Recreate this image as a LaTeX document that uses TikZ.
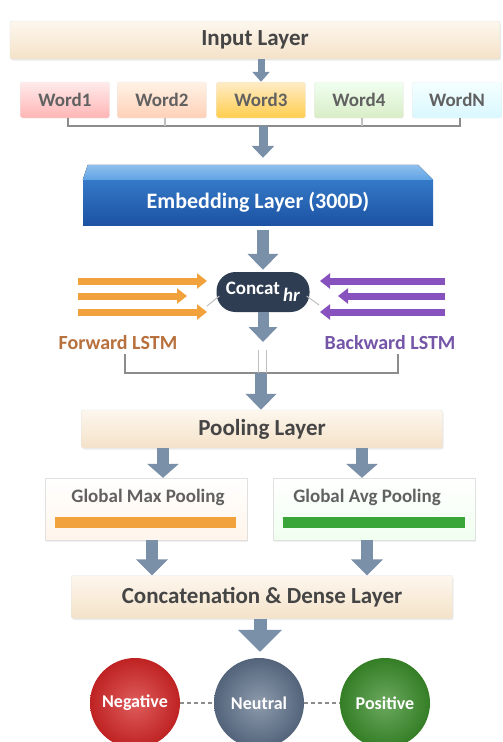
\documentclass[tikz,border=0pt]{standalone}
\usepackage{fontspec}
\setmainfont{Carlito}
\usetikzlibrary{arrows.meta,shapes.geometric,calc,shadows}
\definecolor{arrowc}{HTML}{7A8FA8}
\definecolor{txt}{HTML}{454545}
\definecolor{creamtop}{HTML}{FDF7EE}
\definecolor{creambot}{HTML}{F4E2C8}
\definecolor{orng}{HTML}{F2A23C}
\definecolor{purp}{HTML}{8752BE}
\definecolor{fwtxt}{HTML}{B8703C}
\definecolor{bwtxt}{HTML}{7455A8}
\definecolor{embtop}{HTML}{5FA3E4}
\definecolor{embA}{HTML}{3479C8}
\definecolor{embB}{HTML}{1C52A2}
\definecolor{concatc}{HTML}{2E3D52}
\definecolor{negc}{HTML}{D42626}
\definecolor{neuc}{HTML}{5C6F88}
\definecolor{posc}{HTML}{3A8C2A}
\begin{document}
\begin{tikzpicture}[x=1pt,y=-1pt,
  layer/.style={draw=black!10, top color=creamtop, bottom color=creambot, rounded corners=2pt,
    font=\bfseries\fontsize{23}{26}\selectfont, text=txt, inner sep=0pt,
    drop shadow={opacity=0.15,shadow xshift=1pt,shadow yshift=-1.5pt}},
  word/.style={draw=black!8, rounded corners=2pt, minimum width=89pt, minimum height=36pt,
    font=\bfseries\fontsize{19}{21}\selectfont, text=txt!85, inner sep=0pt},
  arr/.style={draw=arrowc, line width=12pt, -{Triangle[width=30pt,length=16pt]}},
  sarr/.style={draw=arrowc, line width=7pt, -{Triangle[width=17pt,length=10pt]}},
  farr/.style={draw=orng, line width=7pt, -{Triangle[width=15pt,length=10pt]}},
  barr/.style={draw=purp, line width=7pt, -{Triangle[width=15pt,length=10pt]}},
  thin/.style={draw=black!45, line width=1.2pt},
  poolbox/.style={draw=black!12, minimum width=202pt, minimum height=62pt, inner sep=0pt,
    drop shadow={opacity=0.12,shadow xshift=1pt,shadow yshift=-1.5pt}},
  ball/.style={circle, minimum size=90pt, inner sep=0pt, text=white,
    font=\bfseries\fontsize{18}{20}\selectfont}
]
\useasboundingbox (0,0) rectangle (503,742);
\fill[white] (0,0) rectangle (503,742);

% Input layer
\node[layer, minimum width=490pt, minimum height=38pt] (inp) at (255,40) {Input Layer};

% Words
\node[word, top color=red!8, bottom color=red!22!pink!70] (w1) at (65,100) {Word1};
\node[word, top color=orange!10, bottom color=red!30!orange!28] (w2) at (162,100) {Word2};
\node[word, top color=yellow!30!orange!22, bottom color=yellow!45!orange!70] (w3) at (261,100) {Word3};
\node[word, top color=green!6, bottom color=green!35!olive!22] (w4) at (359,100) {Word4};
\node[word, top color=cyan!4, bottom color=blue!20!cyan!15] (w5) at (457,100) {WordN};
\draw[sarr] (inp.south -| w3) -- (w3.north);

% bracket under words
\coordinate (b1) at (68,126);
\coordinate (b2) at (165,126);
\coordinate (b4) at (362,126);
\coordinate (b5) at (460,126);
\coordinate (bm) at (263,126);
\draw[thin] (w1.south -| b1) -- (b1) -- (b5) -- (w5.south -| b5);
\draw[thin, draw=black!25] (w2.south -| b2) -- (b2);
\draw[thin, draw=black!25] (w4.south -| b4) -- (b4);

% Embedding layer
\node[minimum width=350pt, minimum height=45pt, inner sep=0pt, top color=embA, bottom color=embB,
  text=white, font=\bfseries\fontsize{22}{24}\selectfont] (emb) at (258,202.5) {Embedding Layer (300D)};
\fill[top color=embtop!70!white, bottom color=embtop] (emb.north west) -- ++(5,-15) -- ($(emb.north east)+(-15,-15)$) -- (emb.north east) -- cycle;
\draw[sarr, line width=9pt, -{Triangle[width=22pt,length=12pt]}] (bm) -- ($(emb.north -| bm)+(0,-22)$);

% Concat
\node[fill=concatc, rounded corners=19pt, minimum width=93pt, minimum height=40pt, inner sep=0pt,
  text=white, font=\bfseries\fontsize{19}{21}\selectfont] (cc) at (263,292) {Concat\,$_{\textit{hr}}$};
\draw[arr] (emb.south -| cc) ++(0,5) coordinate (ea) (ea) -- ($(cc.north)+(0,-2)$);

% Forward arrows
\coordinate (f1s) at (78,281); \coordinate (f1e) at (207,281);
\coordinate (f2s) at (78,296); \coordinate (f2e) at (187,296);
\coordinate (f3s) at (78,312); \coordinate (f3e) at (207,312);
\draw[farr] (f1s) -- (f1e);
\draw[farr] (f2s) -- (f2e);
\draw[farr] (f3s) -- (f3e);
% Backward arrows
\coordinate (p1s) at (445,281); \coordinate (p1e) at (320,281);
\coordinate (p2s) at (445,296); \coordinate (p2e) at (338,296);
\coordinate (p3s) at (445,312); \coordinate (p3e) at (320,312);
\draw[barr] (p1s) -- (p1e);
\draw[barr] (p2s) -- (p2e);
\draw[barr] (p3s) -- (p3e);
% faint connections
\coordinate (fl) at (207,306); \coordinate (bl) at (319,305);
\draw[draw=black!25, line width=1pt] (fl) -- ($(cc.west)+(3,4)$);
\draw[draw=black!25, line width=1pt] (bl) -- ($(cc.east)+(-3,4)$);

% LSTM labels
\node[text=fwtxt, font=\bfseries\fontsize{20}{22}\selectfont, inner sep=1pt] (fw) at (118,343) {Forward LSTM};
\node[text=bwtxt, font=\bfseries\fontsize{20}{22}\selectfont, inner sep=1pt] (bw) at (390,343) {Backward LSTM};
\coordinate (cd) at (263,342);
\draw[arr, line width=11pt, -{Triangle[width=28pt,length=15pt]}] (cc.south) -- (cd);

% bracket under LSTM
\coordinate (lb1) at (125,373);
\coordinate (lb2) at (398,373);
\coordinate (lm) at (261,373);
\draw[thin] ($(fw.south -| lb1)+(0,3)$) -- (lb1) -- (lb2) -- ($(bw.south -| lb2)+(0,3)$);
\draw[draw=black!25, line width=1pt] (258,350) -- (258,373);
\draw[draw=black!25, line width=1pt] (266,350) -- (266,373);

% Pooling layer
\node[layer, minimum width=361pt, minimum height=38pt] (pool) at (262,429) {Pooling Layer};
\draw[arr] (lm) -- (pool.north -| lm);

% Global pooling boxes
\node[poolbox, top color=white, bottom color=orange!8] (mx) at (146,509) {};
\node[poolbox, top color=white, bottom color=green!6] (av) at (374,509) {};
\node[text=txt!85, font=\bfseries\fontsize{19}{21}\selectfont] (mxt) at ($(mx.north)+(2,20)$) {Global Max Pooling};
\node[text=txt!85, font=\bfseries\fontsize{19}{21}\selectfont] (avt) at ($(av.north)+(-7,20)$) {Global Avg Pooling};
\node[fill=orng, minimum width=181pt, minimum height=11pt, inner sep=0pt] (mxb) at (145.5,522.5) {};
\node[fill=green!55!black!85, fill opacity=0.9, minimum width=182pt, minimum height=11pt, inner sep=0pt] (avb) at (374,522.5) {};

\coordinate (pl) at (163,0); \coordinate (pr) at (362,0);
\draw[arr, line width=12pt, -{Triangle[width=31pt,length=14pt]}] (pool.south -| pl) -- (mx.north -| pl);
\draw[arr, line width=12pt, -{Triangle[width=31pt,length=14pt]}] (pool.south -| pr) -- (av.north -| pr);

% Concatenation & dense
\node[layer, minimum width=381pt, minimum height=43pt] (cd2) at (262,597) {Concatenation \& Dense Layer};
\coordinate (ml) at (152,0); \coordinate (mr) at (367,0);
\draw[arr, line width=12pt, -{Triangle[width=31pt,length=16pt]}] (mx.south -| ml) -- (cd2.north -| ml);
\draw[arr, line width=12pt, -{Triangle[width=31pt,length=16pt]}] (av.south -| mr) -- (cd2.north -| mr);

% Output classes
\node[ball, inner color=negc!75!white, outer color=negc!90!black] (neg) at (135,703) {Negative};
\node[ball, inner color=neuc!70!white, outer color=neuc!90!black] (neu) at (259,703) {Neutral};
\node[ball, inner color=posc!75!white, outer color=posc!90!black] (pos) at (385,703) {Positive};
\draw[arr, line width=13pt, -{Triangle[width=43pt,length=22pt]}] (cd2.south -| neu) ++(1,0) coordinate (da) (da) -- ($(neu.north)+(1,-6)$);
\draw[draw=black!45, line width=1.5pt, dashed, dash pattern=on 4pt off 3pt] (neg.east) -- (neu.west);
\draw[draw=black!45, line width=1.5pt, dashed, dash pattern=on 4pt off 3pt] (neu.east) -- (pos.west);
\end{tikzpicture}
\end{document}
